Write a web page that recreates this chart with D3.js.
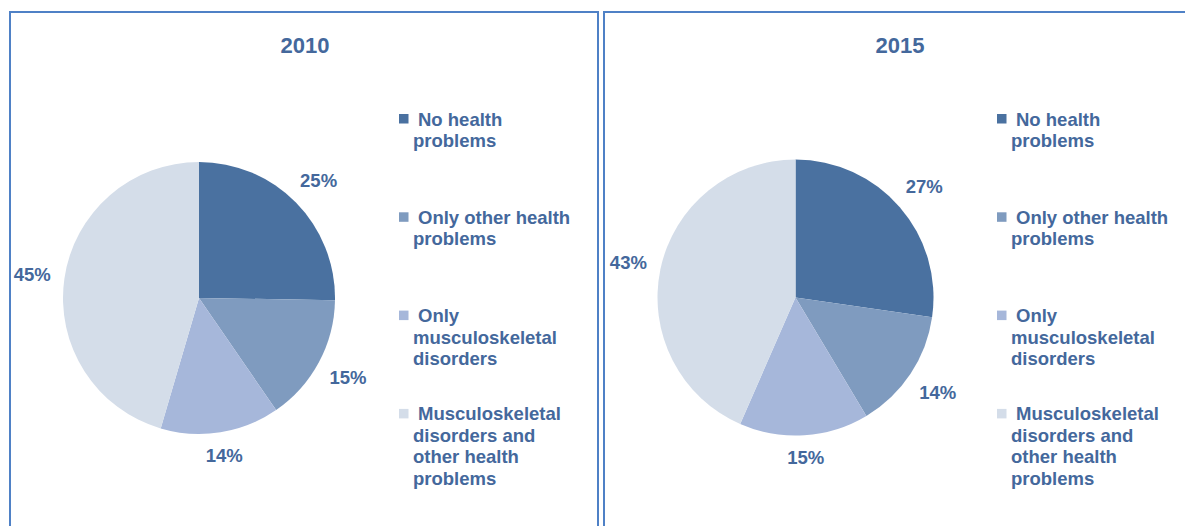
<!DOCTYPE html>
<html>
<head>
<meta charset="utf-8">
<script src="https://cdn.jsdelivr.net/npm/d3@7"></script>
<style>
  html, body { margin: 0; padding: 0; background: #fff; }
  svg { display: block; font-family: "Liberation Sans", Arial, sans-serif; }
</style>
</head>
<body>
<svg id="chart" width="1185" height="526"></svg>
<script>
// ---- data ----
const categories = [
  "No health problems",
  "Only other health problems",
  "Only musculoskeletal disorders",
  "Musculoskeletal disorders and other health problems"
];
const legendLines = [
  ["No health", "problems"],
  ["Only other health", "problems"],
  ["Only", "musculoskeletal", "disorders"],
  ["Musculoskeletal", "disorders and", "other health", "problems"]
];
const years = ["2010", "2015"];
const values2010 = [25, 15, 14, 45];
const values2015 = [27, 14, 15, 43];
const seriesValues = [values2010, values2015];
const sliceColors = ["#4A71A0", "#7F9BBF", "#A6B7DA", "#D4DDE9"];

// ---- layout ----
const textColor = "#44689C";
const borderColor = "#4F81C6";
const svg = d3.select("#chart");

const panels = [
  { x0: 10, x1: 598, cx: 199, cy: 298, r: 136, legendX: 399, titleX: 305 },
  { x0: 604, x1: null, cx: 795.5, cy: 297.5, r: 138, legendX: 997, titleX: 900 }
];

// borders
svg.append("path")
  .attr("d", `M${panels[0].x0},530 V12 H${panels[0].x1} V530`)
  .attr("fill", "none").attr("stroke", borderColor).attr("stroke-width", 2);
svg.append("path")
  .attr("d", `M${panels[1].x0},530 V12 H1190`)
  .attr("fill", "none").attr("stroke", borderColor).attr("stroke-width", 2);

const pie = d3.pie().sort(null).startAngle(0).endAngle(2 * Math.PI);
const color = d3.scaleOrdinal().domain(categories).range(sliceColors);

panels.forEach((p, i) => {
  const g = svg.append("g");
  // title
  g.append("text")
    .attr("x", p.titleX).attr("y", 53)
    .attr("text-anchor", "middle")
    .attr("font-size", 22).attr("font-weight", "bold")
    .attr("fill", textColor)
    .text(years[i]);

  const arcs = pie(seriesValues[i]);
  const arc = d3.arc().innerRadius(0).outerRadius(p.r);

  const pg = g.append("g").attr("transform", `translate(${p.cx},${p.cy})`);
  pg.selectAll("path.slice").data(arcs).enter().append("path")
    .attr("class", "slice")
    .attr("d", arc)
    .attr("fill", (d, j) => color(categories[j]));

  // outside-end labels: text box placed just outside the rim along the mid angle
  pg.selectAll("text.lbl").data(arcs).enter().append("text")
    .attr("class", "lbl")
    .attr("text-anchor", "middle")
    .attr("dy", "0.35em")
    .attr("font-size", 18.5).attr("font-weight", "bold")
    .attr("fill", textColor)
    .text(d => d.data + "%")
    .attr("transform", function(d) {
      const a = (d.startAngle + d.endAngle) / 2;
      const w = this.getComputedTextLength();
      const h = 16;
      const s = Math.sin(a), c = Math.cos(a);
      const R = p.r + 13 + Math.abs(s) * w / 2 + Math.abs(c) * h / 2;
      return `translate(${s * R},${-c * R})`;
    });

  // legend
  const lg = g.append("g");
  const itemStep = 98.3, lineH = 21.5, firstBase = 125.5;
  legendLines.forEach((lines, j) => {
    const base = firstBase + j * itemStep;
    lg.append("rect")
      .attr("x", p.legendX).attr("y", base - 11.5)
      .attr("width", 9.5).attr("height", 9.5)
      .attr("fill", color(categories[j]));
    const t = lg.append("text")
      .attr("font-size", 18.5).attr("font-weight", "bold")
      .attr("fill", textColor);
    lines.forEach((ln, k) => {
      t.append("tspan")
        .attr("x", p.legendX + (k === 0 ? 19 : 14))
        .attr("y", base + k * lineH)
        .text(ln);
    });
  });
});
</script>
</body>
</html>
